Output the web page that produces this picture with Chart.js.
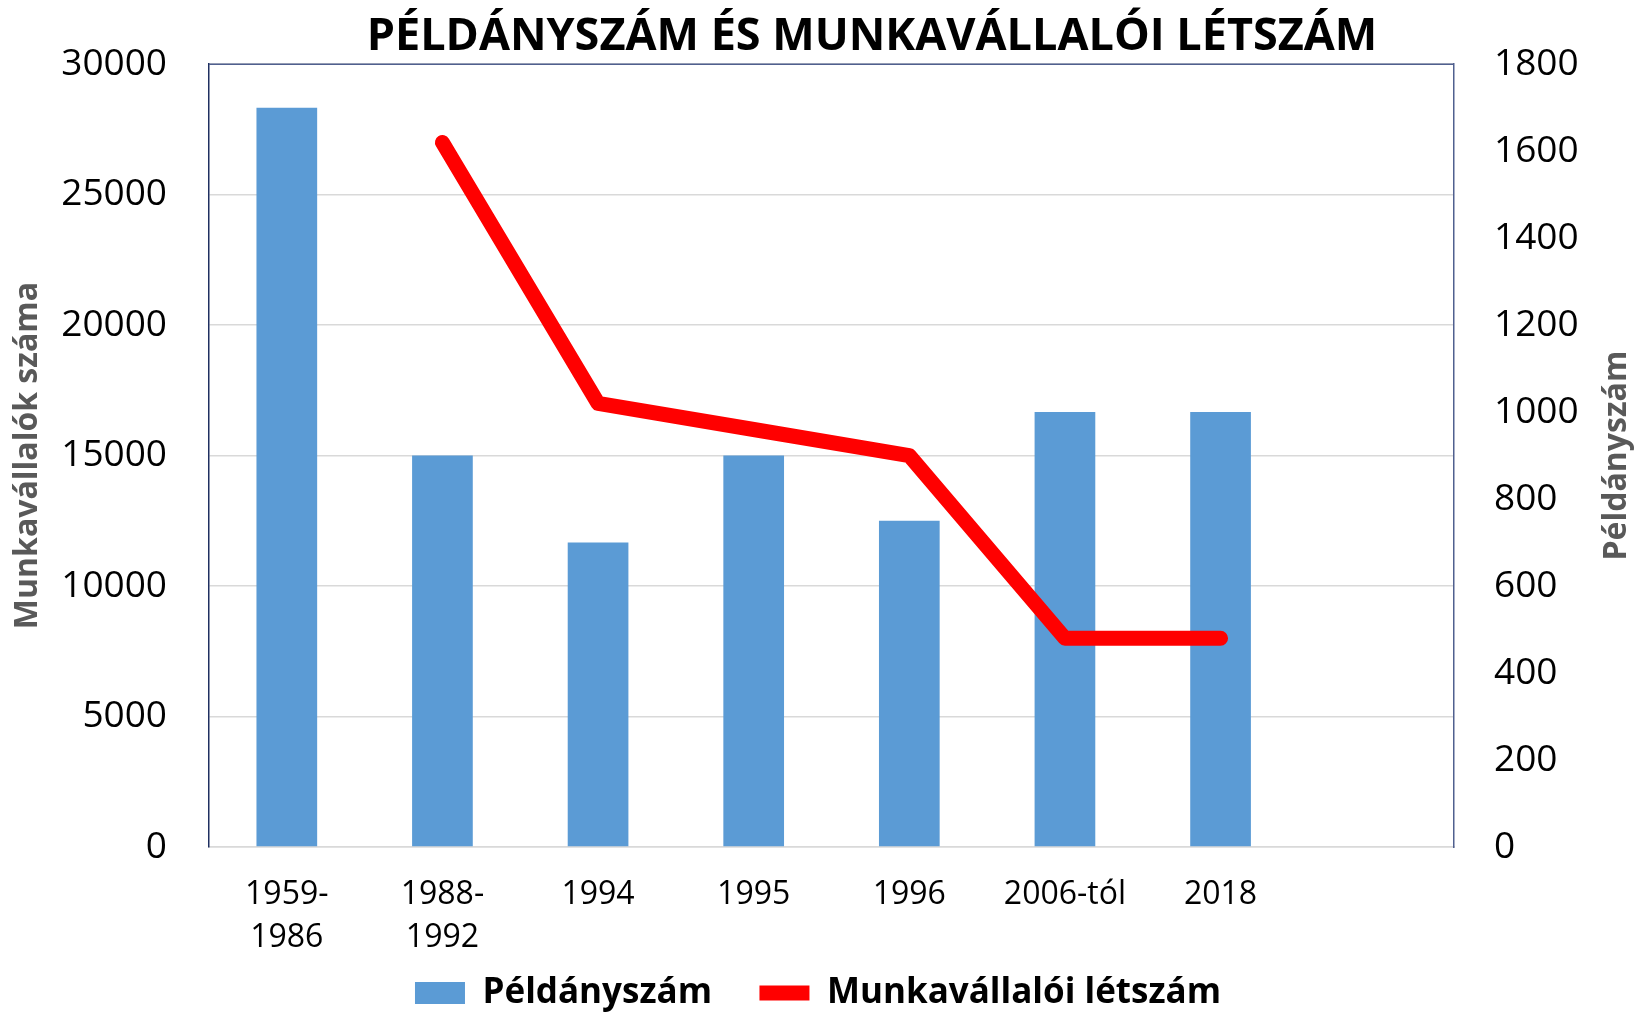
<!DOCTYPE html>
<html>
<head>
<meta charset="utf-8">
<script src="https://cdn.jsdelivr.net/npm/chart.js@4"></script>
<style>
  html, body { margin: 0; padding: 0; background: #fff; }
  #wrap { width: 1636px; height: 1012px; }
</style>
</head>
<body>
<div id="wrap"><canvas id="chart" width="1636" height="1012"></canvas></div>
<script>
// categories (last slot is empty, as in the original)
const categories = [['1959-', '1986'], ['1988-', '1992'], '1994', '1995', '1996', '2006-tól', '2018', ''];
// bars: left axis
const peldanyszam = [28333, 15000, 11667, 15000, 12500, 16667, 16667, null];
// line: right axis
const letszam = [null, 1620, 1020, 960, 900, 480, 480, null];

const leftTicks = { min: 0, max: 30000, step: 5000 };
const rightTicks = { min: 0, max: 1800, step: 200 };

const titleText = 'PÉLDÁNYSZÁM ÉS MUNKAVÁLLALÓI LÉTSZÁM';
const leftTitle = 'Munkavállalók száma';
const rightTitle = 'Példányszám';

Chart.defaults.font.family = '"Open Sans", sans-serif';
Chart.defaults.color = '#000';

// title, top border of the plot and right axis title
const extras = {
    id: 'extras',
    afterDraw(chart) {
        const { ctx, chartArea } = chart;
        ctx.save();
        ctx.strokeStyle = '#50608f';
        ctx.lineWidth = 1.5;
        ctx.beginPath();
        ctx.moveTo(chartArea.left, chartArea.top);
        ctx.lineTo(chartArea.right, chartArea.top);
        ctx.stroke();

        ctx.fillStyle = '#000';
        ctx.font = 'bold 45px "Open Sans"';
        ctx.textAlign = 'center';
        ctx.textBaseline = 'middle';
        ctx.fillText(titleText, 872, 37);

        ctx.fillStyle = '#595959';
        ctx.font = 'bold 32px "Open Sans"';
        ctx.translate(1617, (chartArea.top + chartArea.bottom) / 2);
        ctx.rotate(-Math.PI / 2);
        ctx.fillText(rightTitle, 0, 0);
        ctx.restore();
    }
};

new Chart(document.getElementById('chart'), {
    data: {
        labels: categories,
        datasets: [
            {
                type: 'bar',
                label: 'Példányszám',
                data: peldanyszam,
                backgroundColor: '#5b9bd5',
                yAxisID: 'y',
                barPercentage: 0.39,
                categoryPercentage: 1,
                order: 2
            },
            {
                type: 'line',
                label: 'Munkavállalói létszám',
                data: letszam,
                borderColor: '#ff0000',
                backgroundColor: '#ff0000',
                borderWidth: 15,
                borderCapStyle: 'round',
                borderJoinStyle: 'round',
                pointRadius: 0,
                yAxisID: 'y1',
                order: 1
            }
        ]
    },
    options: {
        responsive: false,
        animation: false,
        layout: { padding: { top: 63, left: 0, right: 0, bottom: -8.5 } },
        plugins: {
            title: { display: false },
            tooltip: { enabled: false },
            legend: {
                position: 'bottom',
                labels: {
                    usePointStyle: true,
                    pointStyleWidth: 50,
                    boxHeight: 22,
                    padding: 2,
                    color: '#000',
                    font: { size: 35, weight: 'bold' },
                    sort: (a, b) => a.datasetIndex - b.datasetIndex,
                    generateLabels(chart) {
                        const items = Chart.defaults.plugins.legend.labels.generateLabels(chart);
                        items.forEach(it => {
                            it.pointStyle = it.datasetIndex === 0 ? 'rect' : 'line';
                            if (it.datasetIndex === 0) {
                                it.lineWidth = 0;
                                it.text += '     '; // room before the next item
                            }
                        });
                        return items;
                    }
                }
            }
        },
        scales: {
            x: {
                grid: { display: false },
                border: { color: '#d9d9d9', width: 1.5 },
                ticks: { font: { size: 32, lineHeight: 1.33 }, padding: 19, maxRotation: 0, autoSkip: false },
                afterFit: s => { s.height = 126.5; }
            },
            y: {
                position: 'left',
                min: leftTicks.min,
                max: leftTicks.max,
                ticks: { stepSize: leftTicks.step, font: { size: 37 }, padding: 42, callback: v => String(v) },
                grid: { color: '#d9d9d9', lineWidth: 1.5, drawTicks: false },
                border: { color: '#1f2f60', width: 1.5 },
                title: {
                    display: true,
                    text: leftTitle,
                    color: '#595959',
                    font: { size: 32, weight: 'bold', lineHeight: 1.2 },
                    padding: { top: 9, bottom: 0 }
                },
                afterFit: s => { s.width = 209; }
            },
            y1: {
                position: 'right',
                min: rightTicks.min,
                max: rightTicks.max,
                ticks: { stepSize: rightTicks.step, font: { size: 37 }, padding: 40, callback: v => String(v) },
                grid: { display: false, drawTicks: false },
                border: { color: '#50608f', width: 1.5 },
                afterFit: s => { s.width = 182; }
            }
        }
    },
    plugins: [extras]
});
</script>
</body>
</html>
